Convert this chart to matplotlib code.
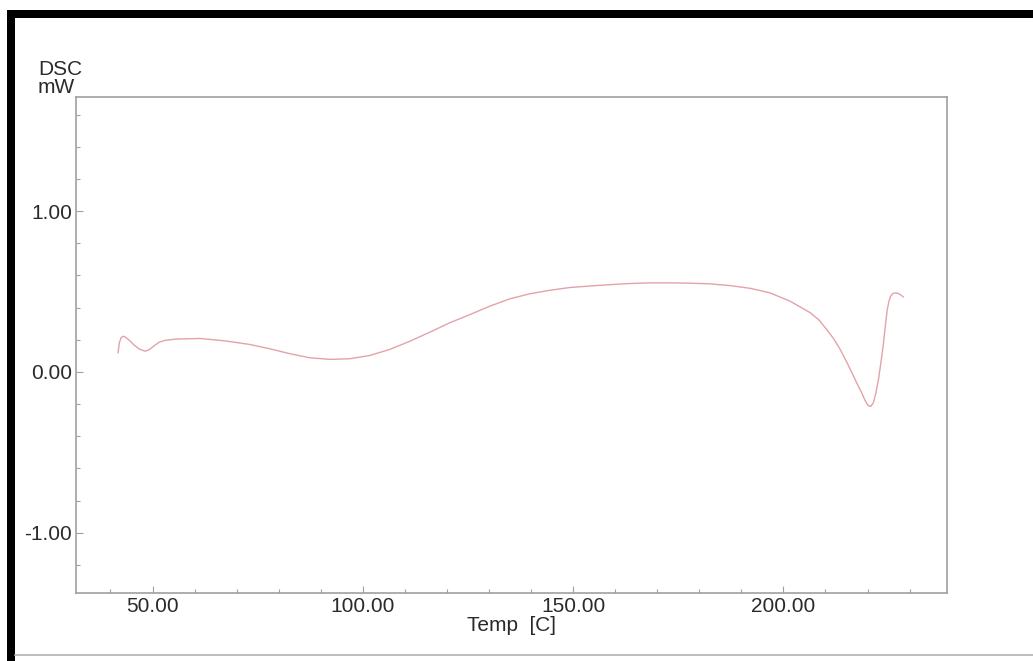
import numpy as np
import matplotlib.pyplot as plt
from matplotlib.patches import Rectangle
from matplotlib.lines import Line2D
from matplotlib.ticker import MultipleLocator, FormatStrFormatter

# DSC trace (temperature in C, heat flow in mW)
temp_c = [41.8, 42.1, 42.5, 43.0, 43.6, 44.5, 45.6, 46.8, 48.2, 49.2,
          50.5, 51.6, 52.9, 55.5, 61.2, 67.0, 73.1, 77.9, 82.7, 87.4,
          92.2, 96.9, 101.6, 106.4, 111.2, 115.9, 120.7, 125.5, 130.2, 135.0,
          139.7, 144.5, 149.2, 156.4, 163.5, 168.3, 173.0, 177.8, 182.5, 187.3,
          192.1, 196.8, 201.6, 206.4, 208.5, 210.3, 212.0, 213.5, 214.9, 216.3,
          217.5, 218.6, 219.5, 220.2, 220.8, 221.4, 222.0, 222.6, 223.2, 223.8,
          224.3, 224.7, 225.1, 225.5, 226.0, 226.6, 227.2, 227.8, 228.5]
dsc_mw = [0.119, 0.180, 0.212, 0.222, 0.216, 0.196, 0.168, 0.143, 0.129, 0.138,
          0.165, 0.185, 0.196, 0.204, 0.208, 0.194, 0.171, 0.144, 0.113, 0.088,
          0.078, 0.082, 0.102, 0.140, 0.191, 0.247, 0.306, 0.357, 0.409, 0.455,
          0.486, 0.508, 0.525, 0.539, 0.550, 0.554, 0.554, 0.552, 0.548, 0.537,
          0.520, 0.492, 0.440, 0.368, 0.322, 0.264, 0.205, 0.140, 0.070, -0.005,
          -0.072, -0.129, -0.182, -0.210, -0.214, -0.191, -0.130, -0.047, 0.060, 0.181,
          0.300, 0.388, 0.440, 0.471, 0.487, 0.492, 0.489, 0.481, 0.467]

x_major = [50, 100, 150, 200]
y_major = [-1.0, 0.0, 1.0]

plt.rcParams["font.family"] = ["Liberation Sans", "DejaVu Sans"]

fig = plt.figure(figsize=(10.33, 6.61), dpi=100)
fig.patch.set_facecolor("white")
W, H = 1033, 661

# scanned page frame: thick black bands top and left, thin grey rule at bottom
fig.add_artist(Rectangle((7 / W, 0), 8 / W, 1 - 10 / H,
                         transform=fig.transFigure, color="black", lw=0))
fig.add_artist(Rectangle((7 / W, 1 - 18 / H), 1 - 7 / W, 8 / H,
                         transform=fig.transFigure, color="black", lw=0))
fig.add_artist(Line2D([15 / W, 1], [1 - 655 / H] * 2,
                      transform=fig.transFigure, color="#b0b0b0", lw=1.2))

ax = fig.add_axes([76 / W, 1 - 593 / H, (947 - 76) / W, (593 - 97) / H])
ax.plot(temp_c, dsc_mw, color="#e3a2aa", lw=1.0)

ax.set_xlim(31.8, 238.9)
ax.set_ylim(-1.375, 1.71)

ax.set_xticks(x_major)
ax.set_yticks(y_major)
ax.xaxis.set_minor_locator(MultipleLocator(10))
ax.yaxis.set_minor_locator(MultipleLocator(0.2))
ax.xaxis.set_major_formatter(FormatStrFormatter("%.2f"))
ax.yaxis.set_major_formatter(FormatStrFormatter("%.2f"))

frame_col = "#a0a0a0"
for s in ax.spines.values():
    s.set_color(frame_col)
    s.set_linewidth(1.2)
ax.tick_params(which="major", direction="in", length=5, width=0.8,
               color=frame_col, labelsize=15, labelcolor="#2a2a2a", pad=3)
ax.tick_params(which="minor", direction="in", length=3, width=0.8,
               color=frame_col)

ax.set_xlabel("Temp  [C]", fontsize=15, color="#2a2a2a", labelpad=0)
fig.text(38 / W, 1 - 75 / H, "DSC", fontsize=15, color="#2a2a2a",
         ha="left", va="baseline")
fig.text(38 / W, 1 - 93 / H, "mW", fontsize=15, color="#2a2a2a",
         ha="left", va="baseline")

fig.savefig("out.png", dpi=100)
